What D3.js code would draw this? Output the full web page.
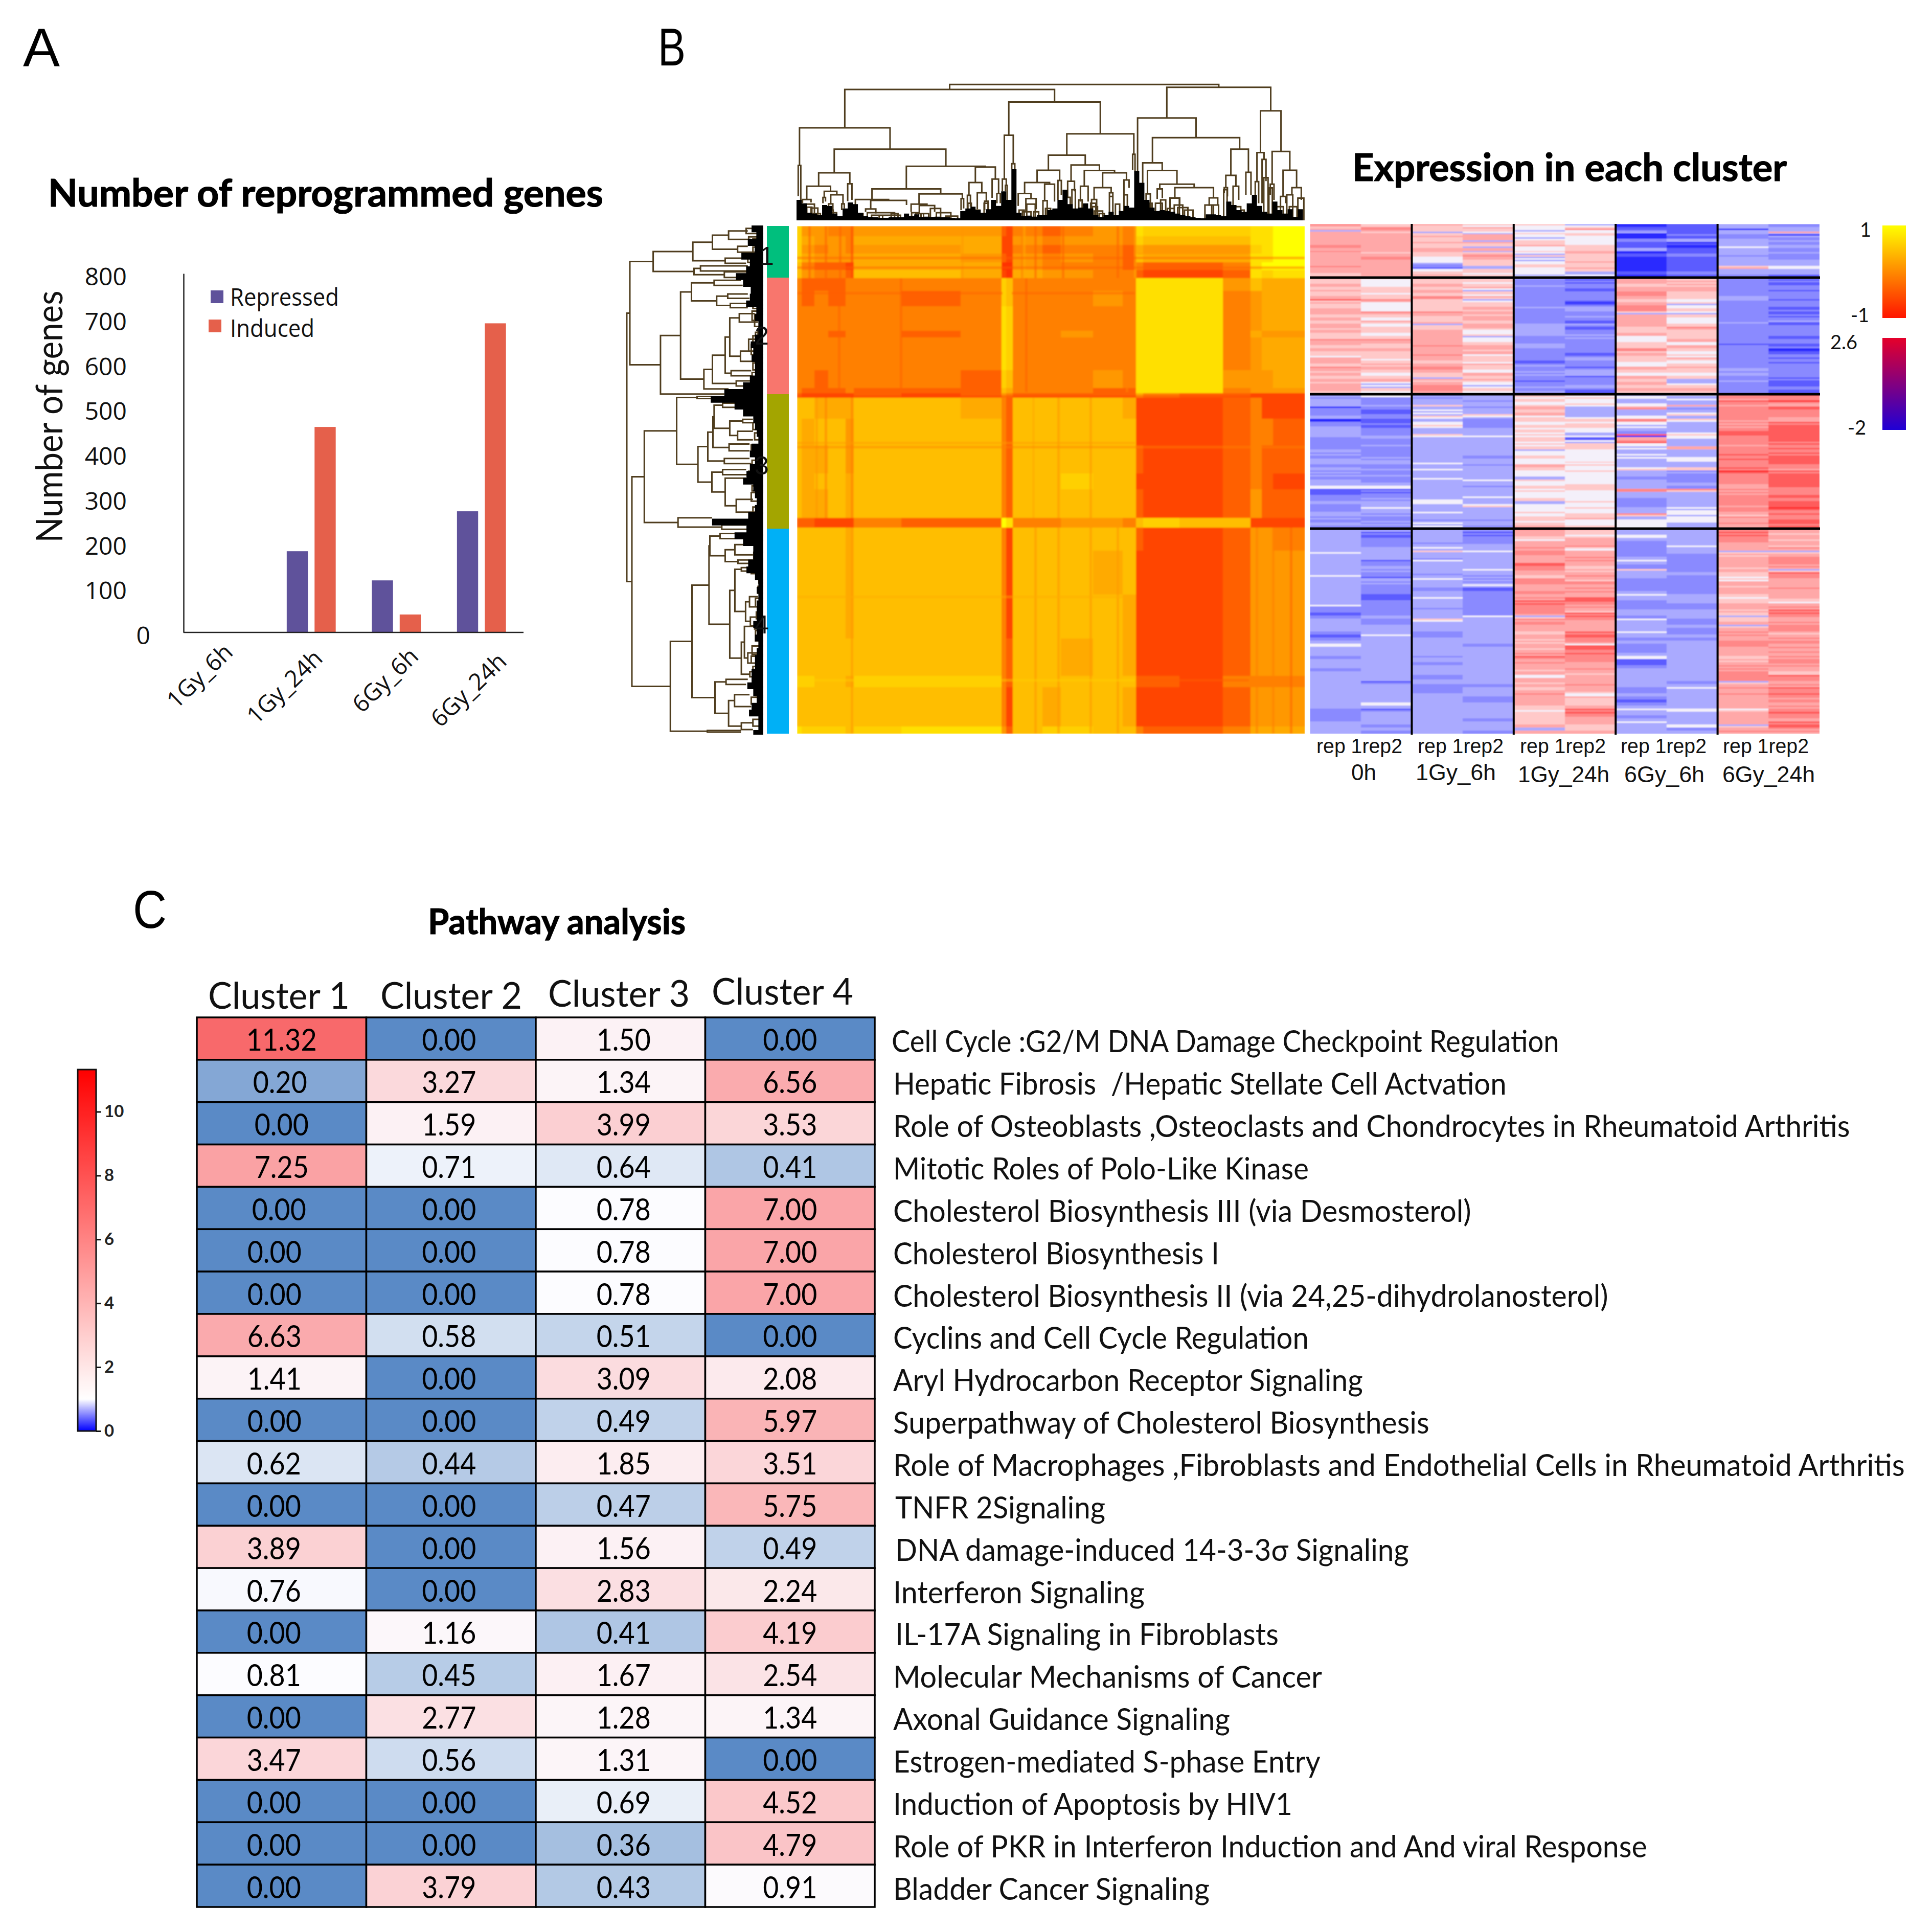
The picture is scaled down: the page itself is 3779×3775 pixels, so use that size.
<!DOCTYPE html>
<html><head><meta charset="utf-8">
<script src="https://cdnjs.cloudflare.com/ajax/libs/d3/7.8.5/d3.min.js"></script>
<style>html,body{margin:0;background:#fff}svg{display:block}</style></head>
<body><div id="c"></div>
<script>
// ---------- Panel A data
const conditions=["1Gy_6h","1Gy_24h","6Gy_6h","6Gy_24h"];
const repressed=[0,181,116,270];
const induced=[0,458,40,689];
const geneTicks=[0,100,200,300,400,500,600,700,800];
// ---------- Panel B data
const clusterNames=["1","2","3","4"];
const clusterSizes=[105,228,263,401];
const clusterColors=["#00BF7D","#F8766D","#A3A500","#00B0F6"];
const corrColSpans=[10,28,30,38,18,104,130,90,10,15,65,40,70,65,30,15,80,95,60,25,25,69];
const corrRowSpans=[23,20,20,20,17,19,29,35,55,15,75,40,12,10,48,60,65,35,65,23,52,100,100,85,25,90,16];
const corrLevels=[
"7 443 3 444 21 32343 877 7 889","7 544 3 555 11 43443 766 6 889","7 434 3 445 11 32332 544 4 789","7 544 4 554 21 43432 655 5 889",
"6 322 1 555 00 43332 322 3 899","6 433 2 665 10 54433 211 2 878","3 222 3 333 76 33333 888 4 655","3 232 3 323 76 33343 888 3 455",
"3 333 3 333 87 33333 888 3 455","3 332 3 323 87 33433 888 3 544","3 333 3 333 87 33333 888 3 455","3 323 3 332 76 33343 888 4 445",
"3 222 3 222 65 33322 888 3 444","2 111 1 212 43 22222 532 2 111","6 655 5 665 32 66665 111 2 311","6 566 4 666 32 66666 111 2 332",
"6 556 4 666 32 66666 211 2 322","6 566 5 666 32 66766 111 2 321","6 556 5 666 32 66666 211 2 422","2 211 1 322 98 33443 676 6 111",
"6 666 5 666 31 66666 211 2 443","6 666 5 666 31 66656 111 2 444","6 666 5 666 31 66665 111 2 444","6 666 6 666 32 66565 111 2 444",
"7 766 5 777 32 66666 221 3 333","6 666 6 666 31 65665 111 2 444","8 777 6 788 42 67766 322 3 555"];
const corrColors=["#ff3000","#ff4500","#ff6000","#ff8000","#ff9800","#ffaa00","#ffbe00","#ffd000","#ffe000","#ffff00"];
const exprColors=["#2a2aff","#5c5cff","#8a8aff","#aaaaff","#f4f0fa","#ffc9c9","#ffa8a8","#ff8888","#ff5c5c","#ff2a2a"];
// each row: ten sample columns, each token holds two stacked stripe levels
const exprCluster1=[
"76 55 65 54 54 34 00 11 33 22","56 77 55 65 44 57 11 11 30 33","36 65 53 54 34 44 23 11 33 36","66 66 55 36 54 55 00 12 32 30",
"66 66 65 66 43 44 00 11 22 32","66 66 55 63 45 44 22 33 33 23","66 66 65 65 55 44 11 01 33 22","77 66 55 53 64 55 11 00 34 33",
"66 66 66 66 44 55 33 11 33 22","76 65 65 35 54 66 00 11 33 23","66 66 55 67 35 55 11 22 32 22","66 77 44 66 34 55 00 11 33 22",
"66 66 44 55 34 56 00 11 33 33","66 66 32 55 45 55 00 11 33 33","76 66 21 33 54 56 00 11 56 44","66 66 44 55 44 55 00 11 33 33",
"65 66 55 54 44 33 11 22 33 33","56 66 65 55 34 43 00 11 22 11"];
const exprCluster2=[
"65 54 65 55 32 21 66 55 22 21","55 44 55 54 22 21 66 65 22 21","66 44 66 55 23 22 55 65 22 12","55 55 55 64 22 21 66 66 22 22",
"65 55 66 35 22 12 67 65 22 12","55 45 55 54 22 22 77 55 22 22","66 55 77 65 22 22 66 55 33 22","85 76 55 34 22 21 55 44 32 12",
"65 44 55 55 22 01 66 53 22 22","55 44 55 56 23 23 77 44 22 21","66 44 55 65 22 33 77 55 22 12","66 76 76 66 22 22 53 43 22 11",
"55 55 65 56 22 23 66 55 22 21","66 44 55 66 22 22 66 44 22 22","55 65 56 55 22 11 66 44 23 31","66 44 35 66 33 32 66 55 22 12",
"65 55 55 65 33 11 55 76 22 22","66 55 66 44 33 22 55 55 22 22","55 44 66 45 33 23 66 55 22 22","55 55 66 34 22 23 44 55 22 11",
"76 76 66 44 22 22 44 66 22 22","66 65 66 55 23 22 55 44 21 21","55 55 76 66 33 22 55 66 22 12","66 66 66 65 22 22 77 55 22 00",
"55 55 66 66 22 21 56 44 22 11","54 55 76 45 22 12 65 54 22 22","66 54 66 55 22 33 55 65 22 12","66 55 55 54 11 22 54 44 22 21",
"55 65 66 65 23 22 44 55 22 22","76 66 77 55 22 12 66 65 23 22","65 55 66 44 23 33 55 55 32 22","66 44 55 66 23 33 44 44 33 22",
"55 55 53 55 22 12 66 55 22 21","66 66 65 65 21 22 55 33 23 21","56 43 66 44 22 22 66 34 22 11","66 43 77 34 23 33 55 55 22 12",
"66 55 77 55 22 21 66 66 22 21","55 44 66 44 32 11 55 55 22 11"];
const exprCluster3=[
"23 44 23 33 55 54 34 43 77 87","23 22 23 33 45 54 43 34 76 77","33 22 33 23 54 44 33 33 87 97","33 23 35 33 45 54 44 36 76 66",
"02 22 33 23 66 33 67 32 77 88","22 11 43 33 55 33 33 33 77 77","22 12 43 35 66 33 33 45 77 77","33 22 54 43 45 34 44 33 77 76",
"00 11 33 22 55 55 77 54 76 66","22 12 44 22 44 45 44 33 76 87","23 11 54 22 55 55 34 33 76 88","33 22 33 33 45 44 33 33 77 88",
"33 22 33 33 54 43 22 34 88 88","33 23 54 34 54 34 80 54 87 88","22 32 33 33 55 11 66 43 77 88","22 22 33 33 54 43 78 33 77 87",
"22 23 33 33 54 55 44 33 76 87","22 22 33 33 55 55 34 66 77 78","33 22 33 33 34 44 33 33 77 77","23 22 33 33 44 44 34 33 78 87",
"22 23 33 22 55 44 34 34 77 88","33 23 33 33 44 44 33 44 87 88","33 33 34 33 44 54 33 33 77 88","22 22 33 23 66 54 33 33 77 77",
"33 23 34 33 55 44 45 55 87 76","23 22 33 33 44 54 33 23 98 87","23 23 33 33 44 44 33 22 77 88","22 22 34 33 33 44 22 22 77 88",
"33 22 33 43 54 44 33 22 77 88","33 33 33 33 44 45 33 33 76 88","44 44 33 23 55 55 33 22 66 87","11 12 33 33 45 54 77 75 76 77",
"11 12 33 33 44 44 33 33 76 77","22 22 33 34 44 44 33 33 77 88","22 32 34 33 55 44 22 33 77 77","33 33 44 33 33 54 22 33 77 88",
"22 33 33 45 44 44 22 33 76 88","22 43 33 33 44 54 33 43 77 98","23 33 34 33 45 44 33 44 76 77","33 23 33 33 44 55 75 43 65 87",
"23 22 33 33 55 56 33 44 76 77","22 23 23 23 54 44 44 44 66 88","33 23 43 33 55 44 44 33 76 87","22 22 43 23 66 55 44 33 66 88"];
const exprCluster4=[
"33 23 33 32 76 65 33 33 77 66","33 12 33 12 66 55 33 33 87 65","33 11 33 12 65 45 44 33 87 66","33 22 33 22 54 66 33 33 77 65",
"33 22 32 22 66 66 22 33 76 66","33 22 33 33 66 67 22 34 66 65","33 33 43 33 76 54 22 33 66 76","34 33 53 43 77 66 22 33 35 35",
"33 33 33 33 76 66 22 22 65 66","33 33 32 33 66 76 33 22 66 77","33 12 43 33 66 76 43 22 66 77","33 22 33 33 88 66 32 22 66 76",
"33 33 33 33 77 55 22 22 65 76","33 23 33 43 76 65 53 22 66 35","33 22 32 33 66 66 33 33 55 87","43 21 33 23 55 76 33 22 54 77",
"33 33 43 23 77 65 22 22 54 66","33 23 33 23 77 77 22 22 66 66","33 22 33 43 66 66 22 22 65 66","33 22 22 11 66 76 22 22 66 76",
"33 22 33 22 77 76 33 22 66 66","33 11 33 22 66 66 43 33 55 66","33 11 43 22 76 88 33 33 45 65","33 22 33 22 87 87 22 33 55 54",
"34 22 33 22 87 76 22 22 66 66","22 22 32 22 77 76 22 22 66 76","22 22 33 22 77 65 33 33 56 87","11 22 33 22 76 87 33 33 55 87",
"22 33 33 43 35 87 22 33 35 76","33 22 54 33 76 76 43 22 55 66","33 22 33 33 77 66 33 22 66 76","33 33 33 33 66 66 33 33 35 77",
"33 33 33 33 66 66 33 22 66 77","22 33 22 33 55 87 43 22 76 65","11 43 22 33 66 88 33 33 76 66","22 33 33 33 65 77 22 22 66 76",
"33 33 33 33 65 76 33 33 77 77","44 33 33 22 66 48 22 33 77 66","33 33 33 33 65 88 22 33 66 76","33 33 33 33 66 77 22 33 66 67",
"33 33 33 33 76 87 33 33 66 66","22 33 23 33 87 77 44 33 55 76","33 33 33 33 66 77 11 33 65 77","33 33 22 33 76 66 11 33 66 76",
"33 33 33 33 66 66 22 33 76 76","22 33 33 33 65 76 33 33 76 66","33 33 33 33 66 65 33 33 77 55","33 33 22 33 44 66 33 33 77 87",
"33 33 23 33 66 66 33 33 77 77","33 12 33 33 65 66 33 22 35 66","33 33 22 22 66 76 33 33 66 76","33 33 22 33 55 66 22 43 76 87",
"33 33 22 33 66 65 22 33 66 77","33 33 33 33 76 44 33 33 76 87","33 33 33 22 66 65 22 33 66 76","33 33 33 22 66 55 11 33 66 77",
"33 44 33 33 66 55 22 33 66 66","33 33 33 33 55 66 33 33 66 76","22 12 33 33 54 87 43 44 45 77","22 33 33 33 55 87 33 33 66 87",
"22 33 33 33 55 76 22 33 66 77","22 33 33 22 55 66 33 33 66 66","33 33 33 33 55 66 43 33 66 87","33 22 33 33 66 55 33 44 35 88",
"33 33 33 33 33 55 33 22 66 76","33 22 33 22 66 66 33 33 76 76"];
const sampleGroups=["0h","1Gy_6h","1Gy_24h","6Gy_6h","6Gy_24h"];
// Dendrograms: node=[height,child,child], leaf=[leafPosition,height]
const topTree=[796,
 [767,
  [542,
   [322,[35,142],[50,120]],
   [417,
    [279,
     [200,[122,[60,100],[110,105]],[170,[134,[180,100],[195,110]],[150,[97,[213,60],[238,60]],[97,[290,60],[305,70]]]]],
     [214,[325,112],[350,120]]],
    [317,
     [184,
      [122,[370,80],[117,[67,[430,50],[490,40]],[670,90]]],
      [155,[95,[697,50],[87,[745,45],[835,50]]],[127,[990,60],[1005,70]]]],
     [312,
      [222,[147,[1027,70],[1045,80]],[162,[1085,65],[112,[1128,60],[1148,60]]]],
      [242,[1172,132],[157,[1200,100],[1220,100]]]]]]],
  [694,
   [499,[242,[1232,170],[205,[1250,170],[1260,110]]],[332,[1287,300],[1305,90]]],
   [507,
    [382,
     [294,
      [222,[157,[1325,85],[127,[1370,50],[1430,65]]],[212,[1480,110],[1538,110]]],
      [234,[1558,120],[1578,150]]],
     [324,
      [229,[1615,130],[1655,170]],
      [292,
       [200,[1690,110],[1735,110]],
       [279,
        [192,[122,[1755,60],[1785,60]],[162,[1860,100],[1880,100]]],
        [237,[1945,150],[1975,190]]]]]],
    [387,[1996,295],[2010,290]]]]],
 [780,
  [600,
   [2025,170],
   [485,
    [337,
     [2055,190],
     [292,
      [2083,157],
      [212,
       [184,[2140,125],[2170,130]],
       [192,[132,[2215,90],[2272,85]],[132,[2445,85],[2495,90]]]]]],
    [417,
     [264,[192,[2533,160],[2552,140]],[200,[2585,90],[2618,120]]],
     [282,[2660,150],[2690,150]]]]],
  [642,
   [397,[227,[2715,100],[2735,100]],[357,[2755,100],[2778,230]]],
   [404,
    [212,[2803,150],[2825,120]],
    [294,[140,[2863,60],[2893,100]],[192,[2930,150],[2985,120]]]]]]];
const topComb=[120,100,45,40,30,90,85,40,25,70,105,95,45,25,20,18,15,15,18,18,18,40,25,35,20,22,20,22,18,18,14,12,55,70,80,60,45,65,120,85,170,120,300,45,25,28,22,30,30,60,70,120,180,95,70,75,100,70,30,20,30,50,30,55,85,75,290,220,120,75,55,60,55,50,40,30,25,18,15,12,35,35,30,25,110,90,60,50,100,150,85,50,40,110,60,40,65,20,65,70];
const topTwigs=[[75,130,95],[85,115,77],[110,150,72],[120,165,40],[215,240,60],[230,260,45],[395,415,40],[440,600,45],[465,530,30],[510,635,30],[580,620,40],[700,740,45],[725,770,40],[755,800,40],[810,870,70],[845,930,45],[900,970,25],[1030,1050,100],[1070,1100,60],[1125,1150,100],[1330,1360,60],[1350,1400,50],[1375,1425,95],[1415,1445,50],[1470,1495,115],[1485,1515,70],[1600,1630,135],[1640,1660,180],[1680,1700,120],[1700,1720,90],[1750,1780,100],[1760,1790,80],[1770,1820,55],[1800,1830,40],[1860,1880,140],[1895,1920,95],[1945,1965,150],[2075,2100,155],[2095,2110,100],[2130,2170,100],[2160,2190,120],[2200,2240,70],[2215,2270,130],[2240,2290,90],[2260,2320,75],[2300,2350,60],[2420,2470,90],[2460,2500,90],[2530,2550,180],[2595,2630,80],[2630,2650,60],[2720,2745,70],[2765,2790,250],[2795,2815,190],[2840,2880,80],[2900,2935,150],[2915,2960,80],[2965,3000,130]];
const leftTree=[801,
 [783,
  [646,
   [413,
    [298,[203,[65,90],[115,70]],[150,[155,90],[190,60]]],
    [223,[225,100],[255,100]]],
   [406,[368,[270,90],[300,90]],[228,[305,90],[338,100]]]],
  [603,
   [485,
    [421,[288,[355,130],[385,120]],[273,[208,[435,90],[460,80]],[193,[490,90],[515,90]]]],
    [348,
     [298,
      [223,[196,[140,[550,50],[600,30]],[133,[770,60],[830,40]]],[188,[885,70],[915,60]]],
      [158,[945,60],[975,60]]],
     [992,203]]],
   [1022,228]]],
 [771,
  [698,
   [508,
    [388,[1036,300],[1048,300]],
    [383,
     [325,
      [295,
       [288,[238,[1075,70],[1100,60]],[196,[120,[1170,60],[1190,60]],[150,[1240,60],[1290,60]]]],
       [200,[1315,80],[1355,80]]],
      [228,[1400,80],[1430,70]]],
     [301,
      [238,[1465,100],[1495,80]],
      [223,[1515,100],[158,[1640,60],[1715,40]]]]]],
   [500,[1748,300],[243,[1790,100],[1815,80]]]],
  [545,
   [418,
    [318,
     [313,
      [253,[1840,100],[1870,90]],
      [223,[166,[1905,60],[1965,60]],[148,[1995,60],[2015,70]]]],
     [196,
      [166,[128,[2040,50],[2060,50]],[103,[80,[2210,30],[2270,30]],[75,[2330,25],[2380,30]]]],
      [128,[110,[2385,40],[90,[2540,30],[2600,30]]],[78,[2650,40],[2680,50]]]]],
    [283,
     [218,[2695,90],[2725,100]],
     [203,[168,[2785,80],[2855,70]],[128,[2950,60],[2990,60]]]]],
   [328,[2995,130],[3005,130]]]]];
const leftComb=[68,68,40,90,50,128,78,100,160,118,73,78,100,40,48,28,28,48,73,58,68,48,48,78,118,228,308,168,118,58,48,38,28,68,78,48,78,98,118,58,48,38,48,88,300,98,168,118,58,58,88,98,48,28,38,28,38,38,38,58,38,48,28,38,48,48,68,68,93,58,38,68,83,28,28,58,128];
const leftTwigs=[[50,80,100],[100,130,85],[110,140,60],[160,190,60],[175,205,45],[225,250,90],[280,300,50],[310,335,75],[360,385,90],[440,470,65],[500,520,60],[535,590,65],[555,625,50],[640,700,30],[660,710,45],[680,730,60],[700,770,85],[730,790,70],[750,810,50],[840,880,60],[895,935,65],[940,975,40],[1130,1150,50],[1190,1230,60],[1250,1290,50],[1320,1350,70],[1410,1450,65],[1475,1510,85],[1560,1590,65],[1600,1650,70],[1685,1720,60],[1850,1880,100],[1950,1990,55],[2050,2075,70],[2110,2130,25],[2150,2190,30],[2220,2270,45],[2300,2340,40],[2360,2400,50],[2410,2470,45],[2500,2550,65],[2560,2600,70],[2620,2670,60],[2740,2790,45],[2800,2840,70],[2860,2900,60],[2930,2970,60]];
// thin streaks in the similarity map: [from, to, along, level]
const corrVerticalStreaks=[[0,119,25,2],[0,119,60,2],[0,119,92,2],[0,119,118,1],[0,119,360,4],[0,119,490,3],[0,119,495,5],[0,119,520,2],[0,119,580,2],[0,119,700,2],[0,119,738,5],[119,378,225,2],[119,378,90,2],[119,378,500,2],[119,378,720,3],[390,663,40,4],[390,663,60,3],[390,663,118,3],[390,663,515,5],[390,663,570,4],[390,663,640,4],[686,1154,118,4],[686,1154,520,4],[686,1154,570,4],[686,1154,640,4],[686,1154,700,4],[686,1154,1005,3],[686,1154,1040,3],[686,1154,1080,2]];
const corrHorizontalStreaks=[[0,1112,70,2],[0,1112,92,2],[745,990,60,4],[0,450,150,2],[470,740,150,2],[0,1112,385,1],[0,740,490,4],[0,740,840,5],[0,740,1030,7],[750,990,1030,2],[0,1112,500,3]];
// ---------- Panel C data
const clusterHeads=["Cluster 1","Cluster 2","Cluster 3","Cluster 4"];
const pathways=["Cell Cycle :G2/M DNA Damage Checkpoint Regulation","Hepatic Fibrosis  /Hepatic Stellate Cell Actvation","Role of Osteoblasts ,Osteoclasts and Chondrocytes in Rheumatoid Arthritis","Mitotic Roles of Polo-Like Kinase","Cholesterol Biosynthesis III (via Desmosterol)","Cholesterol Biosynthesis I","Cholesterol Biosynthesis II (via 24,25-dihydrolanosterol)","Cyclins and Cell Cycle Regulation","Aryl Hydrocarbon Receptor Signaling","Superpathway of Cholesterol Biosynthesis","Role of Macrophages ,Fibroblasts and Endothelial Cells in Rheumatoid Arthritis","TNFR 2Signaling","DNA damage-induced 14-3-3σ Signaling","Interferon Signaling","IL-17A Signaling in Fibroblasts","Molecular Mechanisms of Cancer","Axonal Guidance Signaling","Estrogen-mediated S-phase Entry","Induction of Apoptosis by HIV1","Role of PKR in Interferon Induction and And viral Response","Bladder Cancer Signaling"];
const cluster1=[11.32,0.20,0,7.25,0,0,0,6.63,1.41,0,0.62,0,3.89,0.76,0,0.81,0,3.47,0,0,0];
const cluster2=[0,3.27,1.59,0.71,0,0,0,0.58,0,0,0.44,0,0,0,1.16,0.45,2.77,0.56,0,0,3.79];
const cluster3=[1.50,1.34,3.99,0.64,0.78,0.78,0.78,0.51,3.09,0.49,1.85,0.47,1.56,2.83,0.41,1.67,1.28,1.31,0.69,0.36,0.43];
const cluster4=[0,6.56,3.53,0.41,7,7,7,0,2.08,5.97,3.51,5.75,0.49,2.24,4.19,2.54,1.34,0,4.52,4.79,0.91];
const pathwayTicks=[0,2,4,6,8,10];

// ---------- layout (not data)
const W=3779,H=3775;
const labelWidths=[1306,1200,1872,813,1131,638,1399,813,919,1049,1979,411,1005,492,750,839,659,836,781,1475,619];
const labelLefts=[1744,1747,1747,1747,1747,1747,1747,1747,1747,1747,1747,1751,1751,1747,1751,1747,1747,1747,1747,1747,1747];
const col1TextShift=[0,-3,0,0,-5,-14,-14,-14,-14,-14,-15,-15,-15,-15,-15,-15,-15,-15,-15,-15,-15];
const svg=d3.select("#c").append("svg").attr("width",W).attr("height",H).attr("viewBox",[0,0,W,H]);
svg.append("rect").attr("width",W).attr("height",H).attr("fill","#fff");
const defs=svg.append("defs");
const CAL="Lato, Carlito, sans-serif", ARIAL="'Liberation Sans', Arial, sans-serif", OPEN="'Open Sans', sans-serif";
function fit(sel,w){return sel.attr("textLength",w).attr("lengthAdjust","spacingAndGlyphs");}
function txt(x,y,t,font,size,opts={}){
  const s=svg.append("text").attr("x",x).attr("y",y).text(t).attr("font-family",font).attr("font-size",size).attr("fill",opts.fill||"#000");
  if(opts.bold)s.attr("font-weight","700").attr("stroke",opts.fill||"#000").attr("stroke-width",1.2);
  if(opts.anchor)s.attr("text-anchor",opts.anchor);
  if(opts.w)fit(s,opts.w);
  return s;
}
txt(45,129,"A",ARIAL,106,{w:72});
txt(1287,128,"B",ARIAL,104,{w:54});
txt(260,1815,"C",ARIAL,104,{w:66});

// ---------- Panel A
txt(94,404,"Number of reprogrammed genes",CAL,74,{bold:true,w:1086});
const ax=d3.scaleBand().domain(conditions).range([359,1025]);
const ay=d3.scaleLinear().domain([0,800]).range([1237,535]);
const bar=d3.scaleBand().domain(["Repressed","Induced"]).range([ax.bandwidth()/2-49,ax.bandwidth()/2+49]).paddingInner(0.24).paddingOuter(0.02);
const pa=svg.append("g");
const seriesA=[["Repressed",repressed,"#5F529B"],["Induced",induced,"#E5604B"]];
seriesA.forEach(([n,vals,col])=>{
  pa.selectAll(null).data(vals).join("rect")
   .attr("x",(d,i)=>ax(conditions[i])+bar(n)).attr("width",bar.bandwidth())
   .attr("y",d=>ay(d)).attr("height",d=>ay(0)-ay(d)).attr("fill",col);
});
const yAxisG=pa.append("g").attr("transform","translate(359,0)").call(d3.axisLeft(ay).tickValues(geneTicks).tickSize(0).tickPadding(111));
yAxisG.select(".domain").attr("stroke","#222").attr("stroke-width",2.5);
yAxisG.selectAll("text").attr("font-family",OPEN).attr("font-size",48).attr("fill","#111").attr("dy","0.47em")
  .attr("x",d=>d===0?-65:-111);
const xAxisG=pa.append("g").attr("transform","translate(0,1237)").call(d3.axisBottom(ax).tickSize(0));
xAxisG.select(".domain").attr("d","M359,0H1024").attr("stroke","#222").attr("stroke-width",2.5);
const xShift=[16,25,46,52], yShift=[42,54,50,60];
xAxisG.selectAll("text").attr("font-family",OPEN).attr("font-size",46).attr("fill","#111").attr("text-anchor","end").attr("y",0).attr("dy",0)
  .attr("transform",(d,i)=>`translate(${xShift[i]},${yShift[i]}) rotate(-44)`);
seriesA.forEach(([n,,col],i)=>{
  pa.append("rect").attr("x",i?408:412).attr("y",i?625:568).attr("width",25).attr("height",25).attr("fill",col);
});
txt(450,598,"Repressed",OPEN,48,{w:213,fill:"#111"});
txt(450,659,"Induced",OPEN,48,{w:165,fill:"#111"});
svg.append("text").attr("transform","translate(122,815) rotate(-90)").attr("text-anchor","middle").text("Number of genes")
  .attr("font-family",CAL).attr("font-size",72).attr("fill","#111").call(fit,493);

// ---------- Panel B: shared
const blur2=defs.append("filter").attr("id","sb").attr("filterUnits","userSpaceOnUse").attr("x",0).attr("y",0).attr("width",W).attr("height",H);
blur2.append("feGaussianBlur").attr("stdDeviation","1.6");
const blur3=defs.append("filter").attr("id","eb").attr("filterUnits","userSpaceOnUse").attr("x",0).attr("y",0).attr("width",W).attr("height",H);
blur3.append("feGaussianBlur").attr("stdDeviation","1");
const geneY=d3.scaleLinear().domain([0,d3.sum(clusterSizes)]).range([438,1435]);
const clusterStart=Array.from(d3.cumsum([0,...clusterSizes]));

// cluster colour bar
svg.append("g").selectAll("rect").data(clusterSizes).join("rect")
  .attr("x",1500).attr("width",43).attr("y",(d,i)=>Math.max(442,geneY(clusterStart[i])))
  .attr("height",(d,i)=>geneY(clusterStart[i]+d)-Math.max(442,geneY(clusterStart[i])))
  .attr("fill",(d,i)=>clusterColors[i]);

// correlation heat map
const corrX=d3.scaleLinear().domain([0,d3.sum(corrColSpans)]).range([1559,2552]);
const corrY=d3.scaleLinear().domain([0,d3.sum(corrRowSpans)]).range([442,1435]);
const corrCol=d3.scaleLinear().domain(corrColors.map((c,i)=>i)).range(corrColors);
const colStart=Array.from(d3.cumsum([0,...corrColSpans])), rowStart=Array.from(d3.cumsum([0,...corrRowSpans]));
const corrClip=defs.append("clipPath").attr("id","cc");
corrClip.append("rect").attr("x",1559).attr("y",442).attr("width",993).attr("height",993);
const corrG=svg.append("g").attr("clip-path","url(#cc)").append("g").attr("filter","url(#sb)").attr("shape-rendering","crispEdges");
corrLevels.forEach((row,r)=>{
  const v=row.replace(/ /g,"").split("").map(Number);
  corrG.selectAll(null).data(v).join("rect")
   .attr("x",(d,c)=>corrX(colStart[c])).attr("width",(d,c)=>corrX(colStart[c+1])-corrX(colStart[c])+1)
   .attr("y",corrY(rowStart[r])).attr("height",corrY(rowStart[r+1])-corrY(rowStart[r])+1)
   .attr("fill",d=>corrCol(d));
});
corrG.selectAll(null).data(corrVerticalStreaks).join("rect")
  .attr("x",d=>corrX(d[2])).attr("width",5).attr("y",d=>corrY(d[0])).attr("height",d=>corrY(d[1])-corrY(d[0]))
  .attr("fill",d=>corrCol(d[3])).attr("opacity",.55);
corrG.selectAll(null).data(corrHorizontalStreaks).join("rect")
  .attr("y",d=>corrY(d[2])).attr("height",5).attr("x",d=>corrX(d[0])).attr("width",d=>corrX(d[1])-corrX(d[0]))
  .attr("fill",d=>corrCol(d[3])).attr("opacity",.45);

// dendrograms
function treePath(node,ctx,project){
  if(node.length===2) return {p:node[0],h:node[1]};
  const [h,a,b]=node, l=treePath(a,ctx,project), r=treePath(b,ctx,project);
  const pts=[[l.p,l.h],[l.p,h],[r.p,h],[r.p,r.h]].map(project);
  ctx.moveTo(...pts[0]); pts.slice(1).forEach(q=>ctx.lineTo(...q));
  return {p:(l.p+r.p)/2,h};
}
function twigPath(list,ctx,project){
  list.forEach(([a,b,h])=>{
    const pts=[[a,0],[a,h],[b,h],[b,0]].map(project);
    ctx.moveTo(...pts[0]); pts.slice(1).forEach(q=>ctx.lineTo(...q));
  });
}
const BROWN="#4f3d1e";
const topX=d3.scaleLinear().domain([25,3005]).range([1558,2552]);
const topH=d3.scaleLinear().domain([0,797]).range([431,165]);
const topArea=d3.area().x((d,i)=>Math.min(topX(25+30*i),2552)).y0(topH(0)).y1(d=>topH(d)).curve(d3.curveStepAfter);
const tp=d3.path(); const topProj=([p,h])=>[topX(p),topH(h)];
treePath(topTree,tp,topProj); twigPath(topTwigs,tp,topProj);
svg.append("path").attr("d",tp.toString()).attr("fill","none").attr("stroke",BROWN).attr("stroke-width",3);
svg.append("path").attr("d",topArea(topComb)).attr("fill","#000");
const leftY=d3.scaleLinear().domain([33,3020]).range([441,1437]);
const leftH=d3.scaleLinear().domain([0,801]).range([1492.7,1226]);
const leftArea=d3.area().y((d,i)=>Math.min(leftY(33+40*i),1437)).x0(leftH(0)).x1(d=>leftH(d)).curve(d3.curveStepAfter);
const lp=d3.path(); const leftProj=([p,h])=>[leftH(h),leftY(p)];
treePath(leftTree,lp,leftProj); twigPath(leftTwigs,lp,leftProj);
svg.append("path").attr("d",lp.toString()).attr("fill","none").attr("stroke",BROWN).attr("stroke-width",3);
svg.append("path").attr("d",leftArea(leftComb)).attr("fill","#000");
const clusterLabelY=[518,674,928,1239];
clusterNames.forEach((n,i)=>txt(i==0?1486:1476,clusterLabelY[i],n,ARIAL,50,{fill:"#111"}));

// expression heat map
txt(2645,354,"Expression in each cluster",CAL,74,{bold:true,w:850});
const exprX=d3.scaleBand().domain(d3.range(10)).range([2562,3559]);
const exprCol=d3.scaleLinear().domain(exprColors.map((c,i)=>i)).range(exprColors);
const exprClip=defs.append("clipPath").attr("id","ec");
exprClip.append("rect").attr("x",2562).attr("y",438).attr("width",997).attr("height",997);
const exprG=svg.append("g").attr("clip-path","url(#ec)").append("g").attr("filter","url(#eb)").attr("shape-rendering","crispEdges");
const exprClusters=[exprCluster1,exprCluster2,exprCluster3,exprCluster4];
exprClusters.forEach((rows,ci)=>{
  const ry=d3.scaleBand().domain(d3.range(rows.length*2)).range([geneY(clusterStart[ci]),geneY(clusterStart[ci+1])]);
  rows.forEach((row,r)=>{
    row.split(" ").forEach((token,c)=>{
      exprG.selectAll(null).data(token.split("").map(Number)).join("rect")
       .attr("x",exprX(c)).attr("width",exprX.bandwidth()+.5)
       .attr("y",(d,k)=>ry(r*2+k)).attr("height",ry.bandwidth()+.5).attr("fill",d=>exprCol(d));
    });
  });
});
const sep=svg.append("g").attr("stroke","#000");
[2,4,6,8].forEach(c=>sep.append("line").attr("x1",exprX(c)).attr("x2",exprX(c)).attr("y1",438).attr("y2",1437).attr("stroke-width",4));
[1,2,3].forEach(i=>sep.append("line").attr("x1",2562).attr("x2",3560).attr("y1",geneY(clusterStart[i])).attr("y2",geneY(clusterStart[i])).attr("stroke-width",5));
const repLeft=[2575,2773,2973,3170,3370];
repLeft.forEach(x=>txt(x,1473,"rep 1rep2",ARIAL,41,{w:168,fill:"#111"}));
const groupX=[2643,2769,2969,3177,3369], groupW=[49,157,179,157,181], groupY=[1526,1526,1530,1530,1530];
sampleGroups.forEach((g,i)=>txt(groupX[i],groupY[i],g,ARIAL,44,{w:groupW[i],fill:"#111"}));
// colour legends
const g1=defs.append("linearGradient").attr("id","g1").attr("x1",0).attr("x2",0).attr("y1",0).attr("y2",1);
g1.append("stop").attr("offset",0).attr("stop-color","#ffff00");g1.append("stop").attr("offset",1).attr("stop-color","#ff1500");
const g2=defs.append("linearGradient").attr("id","g2").attr("x1",0).attr("x2",0).attr("y1",0).attr("y2",1);
g2.append("stop").attr("offset",0).attr("stop-color","#e5002a");g2.append("stop").attr("offset",1).attr("stop-color","#1f00d5");
svg.append("rect").attr("x",3682).attr("y",441).attr("width",46).attr("height",181).attr("fill","url(#g1)");
svg.append("rect").attr("x",3682).attr("y",661).attr("width",46).attr("height",180).attr("fill","url(#g2)");
txt(3638,463,"1",CAL,38,{fill:"#111"});
txt(3620,630,"-1",CAL,38,{fill:"#111"});
txt(3580,683,"2.6",CAL,38,{fill:"#111"});
txt(3614,850,"-2",CAL,38,{fill:"#111"});

// ---------- Panel C
txt(837,1827,"Pathway analysis",CAL,68,{bold:true,w:504});
const tableCols=[cluster1,cluster2,cluster3,cluster4];
const tx=d3.scaleBand().domain(clusterHeads).range([385,1711]);
const ty=d3.scaleBand().domain(pathways).range([1990,3730]);
const cellCol=d3.scaleLinear().domain([0,0.78,11.32]).range(["#5A8AC6","#FCFCFF","#F8696B"]);
const headX=[407,744,1072,1392], headY=[1973,1973,1969,1965];
clusterHeads.forEach((h,i)=>txt(headX[i],headY[i],h,CAL,72,{w:277,fill:"#111"}));
const tg=svg.append("g");
tableCols.forEach((vals,c)=>{
  tg.selectAll(null).data(vals).join("rect")
    .attr("x",tx(clusterHeads[c])).attr("width",tx.bandwidth())
    .attr("y",(d,r)=>ty(pathways[r])).attr("height",ty.bandwidth())
    .attr("fill",d=>cellCol(d)).attr("stroke","#000").attr("stroke-width",3.5);
  tg.selectAll(null).data(vals).join("text")
    .attr("x",(d,r)=>tx(clusterHeads[c])+tx.bandwidth()/2+(c==0?col1TextShift[r]:[0,-4,6,0][c]))
    .attr("y",(d,r)=>ty(pathways[r])+ty.bandwidth()/2+24)
    .attr("text-anchor","middle").attr("font-family",CAL).attr("font-size",60).attr("fill","#000")
    .attr("textLength",d=>d>=10?138:106).attr("lengthAdjust","spacingAndGlyphs")
    .text(d=>d.toFixed(2));
});
pathways.forEach((p,r)=>{
  const t=svg.append("text").text(p)
    .attr("font-family",CAL).attr("font-size",60).attr("fill","#111").attr("xml:space","preserve").style("white-space","pre");
  const sx=labelWidths[r]/t.node().getComputedTextLength();
  t.attr("transform",`translate(${labelLefts[r]},${ty(p)+ty.bandwidth()/2+27}) scale(${sx},1)`);
});
// pathway colour bar
const barY=d3.scaleLinear().domain([0,2,11.32]).range([2799,2674,2092]);
const g3=defs.append("linearGradient").attr("id","g3").attr("x1",0).attr("x2",0).attr("y1",1).attr("y2",0);
[[0,"#0000ff"],[0.088,"#ffffff"],[1,"#ff0000"]].forEach(([o,c])=>g3.append("stop").attr("offset",o).attr("stop-color",c));
svg.append("rect").attr("x",152).attr("y",2092).attr("width",36).attr("height",707).attr("fill","url(#g3)").attr("stroke","#111").attr("stroke-width",3);
const cbAxis=svg.append("g").attr("transform","translate(188,0)").call(d3.axisRight(barY).tickValues(pathwayTicks).tickSize(10).tickPadding(6));
cbAxis.select(".domain").remove();
cbAxis.selectAll("line").attr("stroke","#111").attr("stroke-width",3);
cbAxis.selectAll("text").attr("font-family",CAL).attr("font-weight",700).attr("font-size",33).attr("fill","#222");
</script></body></html>
